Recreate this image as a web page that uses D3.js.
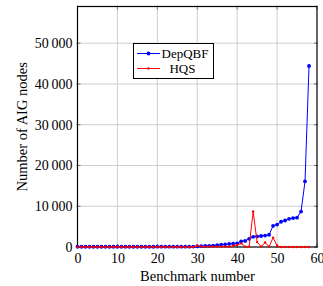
<!DOCTYPE html>
<html><head><meta charset="utf-8">
<script src="https://cdn.jsdelivr.net/npm/d3@7"></script>
<style>body{margin:0;background:#fff}svg{display:block}text{font-family:"Liberation Serif","DejaVu Serif",serif;fill:#000}</style>
</head><body><svg id="c" width="323" height="286"></svg>
<script>
const benchmarks = d3.range(0, 59);
const depqbf = [60,60,60,60,60,60,60,60,60,60, 60,60,60,60,60,60,60,60,60,60, 70,70,70,70,80,80,80,90,90,100,
  150,200,250,300,350,450,550,650,750,850, 900,1400,1500,2000,2500,2600,2700,2800,3000,5200,
  5500,6200,6500,6900,7100,7200,8700,16100,44400];
const hqs = [20,20,20,20,20,20,20,20,20,20, 20,20,20,20,20,20,20,20,20,20, 20,20,20,20,20,20,20,20,20,20,
  300,100,100,100,100,100,100,100,100,300, 500,900,100,100,8700,1200,100,1100,100,2300,
  300,0,0,0,0,0,0,0,0];
const xTicks = [0,10,20,30,40,50,60];
const yTicks = [0,10000,20000,30000,40000,50000];
const seriesNames = ["DepQBF","HQS"];
const seriesColors = ["#0000ff","#ff0000"];

const svg = d3.select("#c");
const L = 77.5, R = 317, T = 6.5, B = 247;
const x = d3.scaleLinear().domain([0,60]).range([L,R]);
const y = d3.scaleLinear().domain([0,59000]).range([B,T]);
const loc = d3.formatLocale({decimal:".", thousands:"\u2009", grouping:[3], currency:["",""]});
const fmt = loc.format(",d");

// grid
const g = svg.append("g");
g.selectAll(".gx").data(xTicks.filter(d=>d>0&&d<60)).join("line")
  .attr("x1",d=>x(d)).attr("x2",d=>x(d)).attr("y1",T).attr("y2",B)
  .attr("stroke","#cfcfcf").attr("stroke-width",1);
g.selectAll(".gy").data(yTicks.filter(d=>d>0)).join("line")
  .attr("x1",L).attr("x2",R).attr("y1",d=>y(d)).attr("y2",d=>y(d))
  .attr("stroke","#cfcfcf").attr("stroke-width",1);

// axes
const xa = svg.append("g").attr("transform",`translate(0,${B})`)
  .call(d3.axisBottom(x).tickValues(xTicks).tickSize(0).tickPadding(6).tickFormat(d3.format("d")));
xa.select(".domain").remove();
xa.selectAll("text").attr("font-size",14).style("font-family",'"Liberation Serif",serif');
const ya = svg.append("g").attr("transform",`translate(${L},0)`)
  .call(d3.axisLeft(y).tickValues(yTicks).tickSize(0).tickPadding(5).tickFormat(fmt));
ya.select(".domain").remove();
ya.selectAll("text").attr("font-size",14).style("font-family",'"Liberation Serif",serif');

// inner tick marks
const tk = svg.append("g").attr("stroke","#555").attr("stroke-width",0.8);
yTicks.forEach(v=>{
  tk.append("line").attr("x1",L-1).attr("x2",L+3).attr("y1",y(v)).attr("y2",y(v));
  tk.append("line").attr("x1",R+1).attr("x2",R-3).attr("y1",y(v)).attr("y2",y(v));
});
xTicks.forEach(v=>{
  tk.append("line").attr("x1",x(v)).attr("x2",x(v)).attr("y1",B+1).attr("y2",B-3);
  tk.append("line").attr("x1",x(v)).attr("x2",x(v)).attr("y1",T-1).attr("y2",T+3);
});

// frame
svg.append("rect").attr("x",L).attr("y",T).attr("width",R-L).attr("height",B-T)
  .attr("fill","none").attr("stroke","#000").attr("stroke-width",1.2);

// series
const line = d3.line().x((d,i)=>x(benchmarks[i])).y(d=>y(d));
svg.append("path").datum(depqbf).attr("d",line).attr("fill","none").attr("stroke",seriesColors[0]).attr("stroke-width",1);
svg.append("g").selectAll("circle").data(depqbf).join("circle")
  .attr("cx",(d,i)=>x(benchmarks[i])).attr("cy",d=>y(d)).attr("r",1.9).attr("fill",seriesColors[0]);
svg.append("path").datum(hqs).attr("d",line).attr("fill","none").attr("stroke",seriesColors[1]).attr("stroke-width",1);
svg.append("g").selectAll("circle").data(hqs).join("circle")
  .attr("cx",(d,i)=>x(benchmarks[i])).attr("cy",d=>y(d)).attr("r",1.2).attr("fill",seriesColors[1]);

// legend
const lg = svg.append("g");
lg.append("rect").attr("x",133.5).attr("y",43.5).attr("width",80).attr("height",35)
  .attr("fill","#fff").attr("stroke","#000").attr("stroke-width",1);
const ly = [53.5,68.5], lr = [1.9,1.2], lx = [161.5,182.5], la = ["start","middle"];
seriesNames.forEach((n,i)=>{
  lg.append("line").attr("x1",137).attr("x2",160).attr("y1",ly[i]).attr("y2",ly[i]).attr("stroke",seriesColors[i]).attr("stroke-width",1);
  lg.append("circle").attr("cx",148.5).attr("cy",ly[i]).attr("r",lr[i]).attr("fill",seriesColors[i]);
  lg.append("text").attr("x",lx[i]).attr("y",ly[i]+4.5).attr("text-anchor",la[i]).attr("font-size",13).text(n);
});

// labels
svg.append("text").attr("x",197.5).attr("y",281).attr("text-anchor","middle").attr("font-size",14.5).text("Benchmark number");
svg.append("text").attr("transform",`translate(27,${(T+B)/2}) rotate(-90)`).attr("text-anchor","middle").attr("font-size",14.5).text("Number of AIG nodes");
</script></body></html>
